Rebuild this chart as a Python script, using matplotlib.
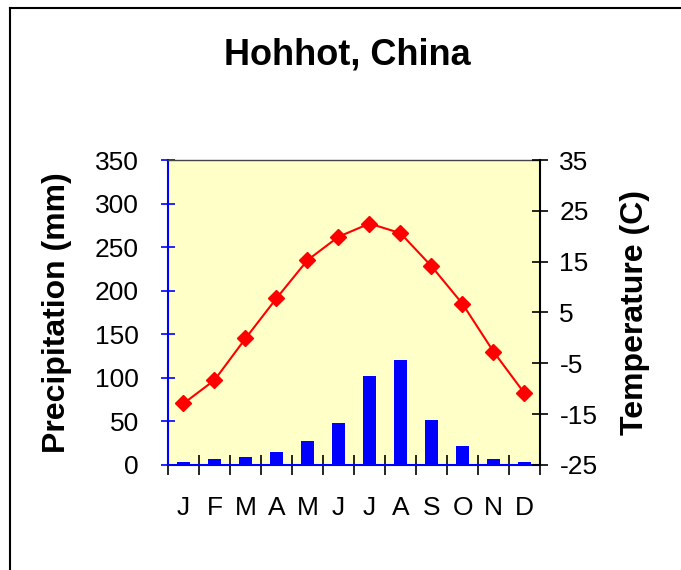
import matplotlib.pyplot as plt
import numpy as np

# datos
meses = ["J", "F", "M", "A", "M", "J", "J", "A", "S", "O", "N", "D"]
precipitacion = [3, 6.5, 9.5, 15, 27.5, 48.5, 102.5, 120.5, 51.5, 21.5, 6.5, 3]
temperatura = [-12.9, -8.3, -0.1, 7.8, 15.3, 19.9, 22.5, 20.6, 14.1, 6.7, -2.7, -10.9]
ticks_precip = [0, 50, 100, 150, 200, 250, 300, 350]
ticks_temp = [-25, -15, -5, 5, 15, 25, 35]

plt.rcParams['axes.unicode_minus'] = False
plt.rcParams['font.family'] = ['Liberation Sans', 'DejaVu Sans']

fig = plt.figure(figsize=(6.81, 5.70), dpi=100)
fig.patch.set_facecolor('white')

# marco exterior (solo arriba e izquierda visibles)
fig.add_artist(plt.Line2D([10/681, 1], [1 - 8/570, 1 - 8/570], transform=fig.transFigure, color='black', lw=1.5))
fig.add_artist(plt.Line2D([10/681, 10/681], [0, 1 - 8/570], transform=fig.transFigure, color='black', lw=1.5))

ax = fig.add_axes([168/681, 105/570, 372/681, 305/570])
ax.set_facecolor('#FFFFC8')

x = np.arange(len(meses))
ax.bar(x, precipitacion, width=0.42, color='#0000FF', zorder=2)
ax.set_xlim(-0.5, len(meses) - 0.5)
ax.set_ylim(0, 350)
ax.set_yticks(ticks_precip)
ax.set_yticklabels([str(t) for t in ticks_precip], fontsize=19)
ax.tick_params(axis='y', direction='inout', length=10, width=1.2, color='#0000FF', pad=16)

ax.set_xticks(x)
ax.set_xticklabels(meses, fontsize=19)
ax.set_xticks(np.arange(-0.5, len(meses), 1), minor=True)
ax.tick_params(axis='x', which='major', length=0, pad=22)
ax.tick_params(axis='x', which='minor', direction='inout', length=14, width=1.2, color='black')

for lado in ['left', 'bottom']:
    ax.spines[lado].set_color('#0000FF')
    ax.spines[lado].set_linewidth(1.5)
ax.spines['top'].set_color('#444444')
ax.spines['top'].set_linewidth(1.0)
ax.spines['right'].set_visible(False)

ax.set_ylabel('Precipitation (mm)', fontsize=23, fontweight='bold')
ax.yaxis.set_label_coords(-0.258, 0.5)

ax2 = ax.twinx()
ax2.plot(x, temperatura, color='#FF0000', lw=1.5, marker='D', markersize=8, zorder=3)
ax2.set_ylim(-25, 35)
ax2.set_yticks(ticks_temp)
ax2.set_yticklabels([str(t) for t in ticks_temp], fontsize=19)
ax2.tick_params(axis='y', direction='inout', length=12, width=1.2, color='black', pad=8)
ax2.spines['right'].set_color('black')
ax2.spines['right'].set_linewidth(1.5)
ax2.spines['left'].set_visible(False)
ax2.spines['top'].set_visible(False)
ax2.spines['bottom'].set_visible(False)
ax2.set_ylabel('Temperature (C)', fontsize=23, fontweight='bold')
ax2.yaxis.set_label_coords(1.215, 0.5)

fig.text(347/681, 1 - 55/570, 'Hohhot, China', fontsize=26, fontweight='bold',
         ha='center', va='center')

plt.savefig('out.png', dpi=100)
